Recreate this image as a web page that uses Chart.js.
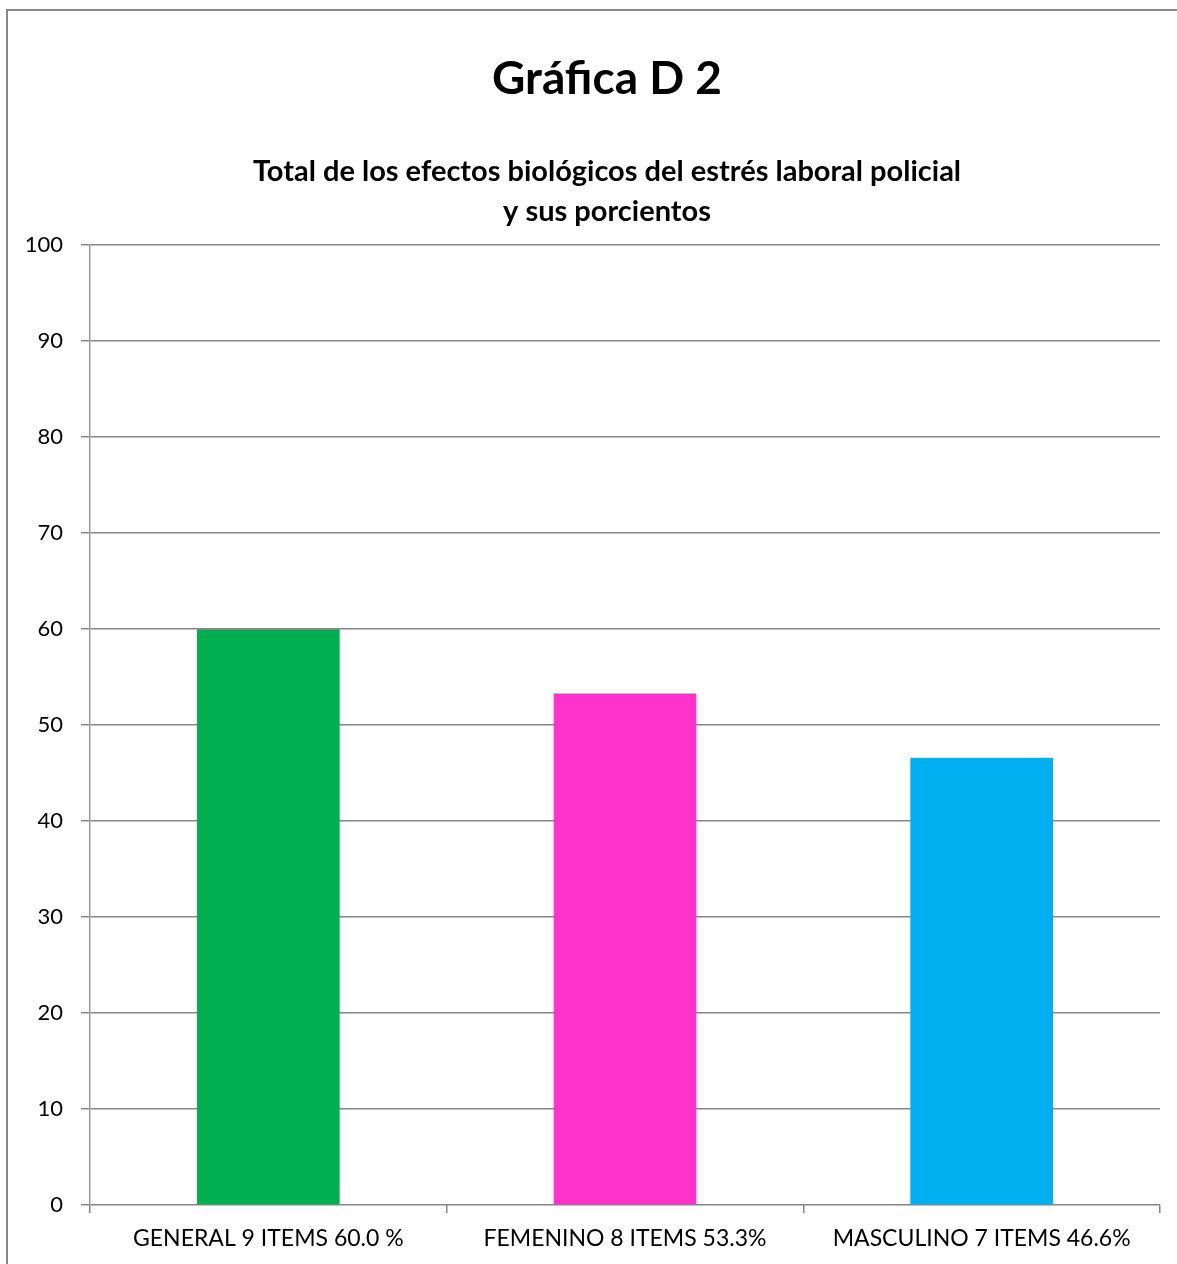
<!DOCTYPE html>
<html>
<head>
<meta charset="utf-8">
<script src="https://cdn.jsdelivr.net/npm/chart.js@4"></script>
<style>
    body { margin: 0; background: #fff; overflow: hidden; }
    #frame { position: absolute; left: 6px; top: 9px; width: 1400px; height: 1400px; border: 2px solid #878787; }
    #wrap { position: absolute; left: 0; top: 0; width: 1177px; height: 1264px; }
</style>
</head>
<body>
<div id="frame"></div>
<div id="wrap"><canvas id="chart-d2"></canvas></div>
<script>
// data
var categories = ['GENERAL 9 ITEMS 60.0 %', 'FEMENINO 8 ITEMS 53.3%', 'MASCULINO 7 ITEMS 46.6%'];
var porcientos = [60.0, 53.3, 46.6];
var barColors = ['#00B050', '#FF33CC', '#00B0F0'];
var yTicks = [0, 10, 20, 30, 40, 50, 60, 70, 80, 90, 100];

var fontFamily = 'Lato, "Open Sans", sans-serif';

var ctx = document.getElementById('chart-d2').getContext('2d');

// y labels are drawn mirrored (so they are not clipped to the narrow axis box),
// pushed back left of the axis with a negative padding
ctx.font = 'normal 22px ' + fontFamily;
var widestY = Math.max.apply(null, yTicks.map(v => ctx.measureText(String(v)).width));
var yLabelPad = -27 - widestY;

var chartD2 = new Chart(ctx, {
    type: 'bar',
    data: {
        labels: categories,
        datasets: [{
            data: porcientos,
            backgroundColor: barColors,
            borderWidth: 0,
            barPercentage: 0.4,
            categoryPercentage: 1
        }]
    },
    options: {
        responsive: true,
        maintainAspectRatio: false,
        animation: false,
        layout: {
            // left padding shifts the titles so they centre like the original
            padding: { left: 54, right: 17, top: 0, bottom: 0 }
        },
        scales: {
            x: {
                offset: true,
                grid: {
                    offset: true,
                    drawOnChartArea: false,
                    drawTicks: true,
                    tickLength: 8,
                    color: '#868686',
                    lineWidth: 1.5
                },
                border: { display: false },
                ticks: {
                    color: '#000',
                    font: { family: fontFamily, size: 23 },
                    padding: 12,
                    maxRotation: 0
                },
                afterFit: function(scale) { scale.height = 59; }
            },
            y: {
                min: 0,
                max: 100,
                afterBuildTicks: function(scale) {
                    scale.ticks = yTicks.map(v => ({ value: v }));
                },
                grid: {
                    color: '#868686',
                    lineWidth: 1.5,
                    tickLength: 9
                },
                border: { display: true, color: '#9a9a9a', width: 1.5 },
                ticks: {
                    color: '#000',
                    font: { family: fontFamily, size: 22 },
                    mirror: true,
                    crossAlign: 'far',
                    padding: yLabelPad
                },
                afterFit: function(scale) { scale.width = 36; }
            }
        },
        plugins: {
            legend: { display: false },
            tooltip: { enabled: false },
            title: {
                display: true,
                text: 'Gráfica D 2',
                color: '#000',
                font: { family: fontFamily, size: 46, weight: 'bold' },
                padding: { top: 52, bottom: 44 }
            },
            subtitle: {
                display: true,
                text: ['Total de los efectos biológicos del estrés laboral policial', 'y sus porcientos'],
                color: '#000',
                font: { family: fontFamily, size: 29, weight: 'bold', lineHeight: 1.38 },
                padding: { top: 0, bottom: 14 }
            }
        }
    }
});
</script>
</body>
</html>
